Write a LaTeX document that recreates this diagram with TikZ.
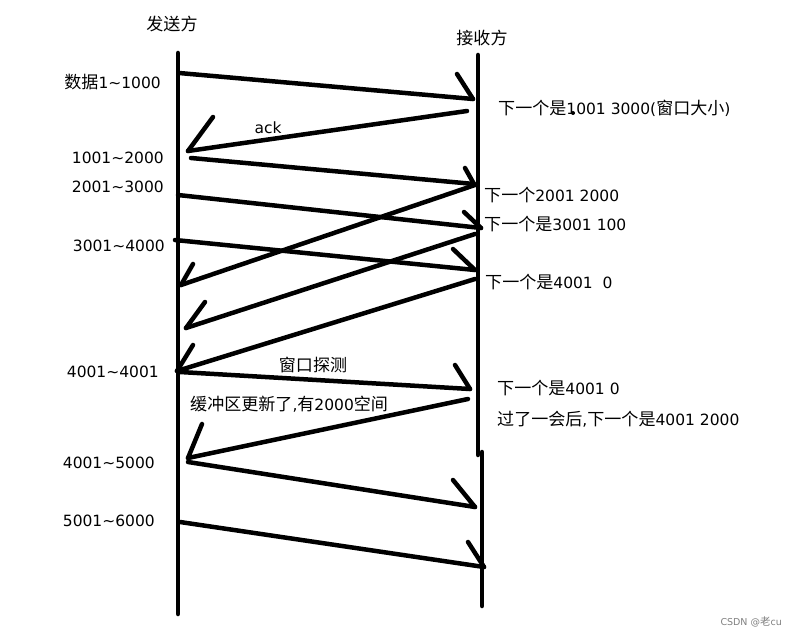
\documentclass[tikz,border=0pt]{standalone}
\usepackage{fontspec}
\setmainfont{DejaVu Sans}
\newfontfamily\cjk[Scale=1.1]{Noto Sans CJK SC}
\begin{document}
\begin{tikzpicture}[x=1pt,y=-1pt,
  stroke/.style={line width=4.5pt,line cap=round,line join=round},
  lbl/.style={font=\fontsize{15.5}{18}\selectfont,inner sep=0pt},
  lft/.style={lbl,anchor=east},
  rgt/.style={lbl,anchor=west},
]
\fill[white] (0,0) rectangle (798,639);
\useasboundingbox (0,0) rectangle (798,639);

% lifelines
\coordinate (sT) at (178,53); \coordinate (sB) at (178,614);
\draw[stroke] (sT) -- (sB);
\coordinate (rT) at (478,55); \coordinate (rM) at (478,455);
\coordinate (rM2) at (482,452); \coordinate (rB) at (482,606);
\draw[stroke] (rT) -- (rM);
\draw[stroke] (rM2) -- (rB);

% headers
\node[lbl] (hs) at (172,24) {\cjk 发送方};
\node[lbl] (hr) at (482,38) {\cjk 接收方};

% arrow 1
\coordinate (a1) at (179,73); \coordinate (b1) at (473,99); \coordinate (h1) at (457,74);
\draw[stroke] (a1) -- (b1); \draw[stroke] (h1) -- (b1);
% ack
\coordinate (a2) at (467,111); \coordinate (b2) at (188,151); \coordinate (h2) at (213,117);
\draw[stroke] (a2) -- (b2); \draw[stroke] (h2) -- (b2);
\node[lbl] (ack) at (268,128) {ack};
% arrow 3
\coordinate (a3) at (191,158); \coordinate (b3) at (474,184); \coordinate (h3) at (465,168);
\draw[stroke] (a3) -- (b3); \draw[stroke] (h3) -- (b3);
% arrow 4
\coordinate (a4) at (178,195); \coordinate (b4) at (481,228); \coordinate (h4) at (464,212);
\draw[stroke] (a4) -- (b4); \draw[stroke] (h4) -- (b4);
% arrow 5
\coordinate (a5) at (175,240); \coordinate (b5) at (475,270); \coordinate (h5) at (453,249);
\draw[stroke] (a5) -- (b5); \draw[stroke] (h5) -- (b5);
% return 6
\coordinate (a6) at (475,185); \coordinate (b6) at (181,285); \coordinate (h6) at (193,264);
\draw[stroke] (a6) -- (b6); \draw[stroke] (h6) -- (b6);
% return 7
\coordinate (a7) at (475,234); \coordinate (b7) at (186,328); \coordinate (h7) at (205,302);
\draw[stroke] (a7) -- (b7); \draw[stroke] (h7) -- (b7);
% return 8
\coordinate (a8) at (475,279); \coordinate (b8) at (177,371); \coordinate (h8) at (193,345);
\draw[stroke] (a8) -- (b8); \draw[stroke] (h8) -- (b8);
% window probe
\coordinate (a9) at (180,372); \coordinate (b9) at (470,389); \coordinate (h9) at (455,365);
\draw[stroke] (a9) -- (b9); \draw[stroke] (h9) -- (b9);
\node[lbl] (probe) at (313,365) {\cjk 窗口探测};
% buffer updated
\coordinate (a10) at (468,399); \coordinate (b10) at (188,458); \coordinate (h10) at (202,424);
\draw[stroke] (a10) -- (b10); \draw[stroke] (h10) -- (b10);
\node[rgt] (buf) at (190,404) {{\cjk 缓冲区更新了},{\cjk 有}2000{\cjk 空间}};
% arrow 11
\coordinate (a11) at (188,462); \coordinate (b11) at (475,507); \coordinate (h11) at (453,480);
\draw[stroke] (a11) -- (b11); \draw[stroke] (h11) -- (b11);
% arrow 12
\coordinate (a12) at (180,522); \coordinate (b12) at (484,567); \coordinate (h12) at (468,542);
\draw[stroke] (a12) -- (b12); \draw[stroke] (h12) -- (b12);

% left labels
\node[lft] (l1) at (161,82) {{\cjk 数据}1\textasciitilde 1000};
\node[lft] (l2) at (164,158) {1001\textasciitilde 2000};
\node[lft] (l3) at (164,187) {2001\textasciitilde 3000};
\node[lft] (l4) at (165,246) {3001\textasciitilde 4000};
\node[lft] (l5) at (159,372) {4001\textasciitilde 4001};
\node[lft] (l6) at (155,463) {4001\textasciitilde 5000};
\node[lft] (l7) at (155,521) {5001\textasciitilde 6000};

% right labels
\node[rgt] (r1) at (498,108) {{\cjk 下一个是}1001 3000({\cjk 窗口大小})};
\fill (573,113) circle (2);
\node[rgt] (r2) at (484,195) {{\cjk 下一个}2001 2000};
\node[rgt] (r3) at (484,224) {{\cjk 下一个是}3001 100};
\node[rgt] (r4) at (485,282) {{\cjk 下一个是}4001\ \ 0};
\node[rgt] (r5) at (497,388) {{\cjk 下一个是}4001 0};
\node[rgt] (r6) at (497,419) {{\cjk 过了一会后},{\cjk 下一个是}4001 2000};

% watermark
\node[anchor=east,inner sep=0pt,text=gray,font=\fontsize{9.5}{10}\selectfont] (wm) at (782,622) {CSDN @{\cjk 老}cu};
\end{tikzpicture}
\end{document}
